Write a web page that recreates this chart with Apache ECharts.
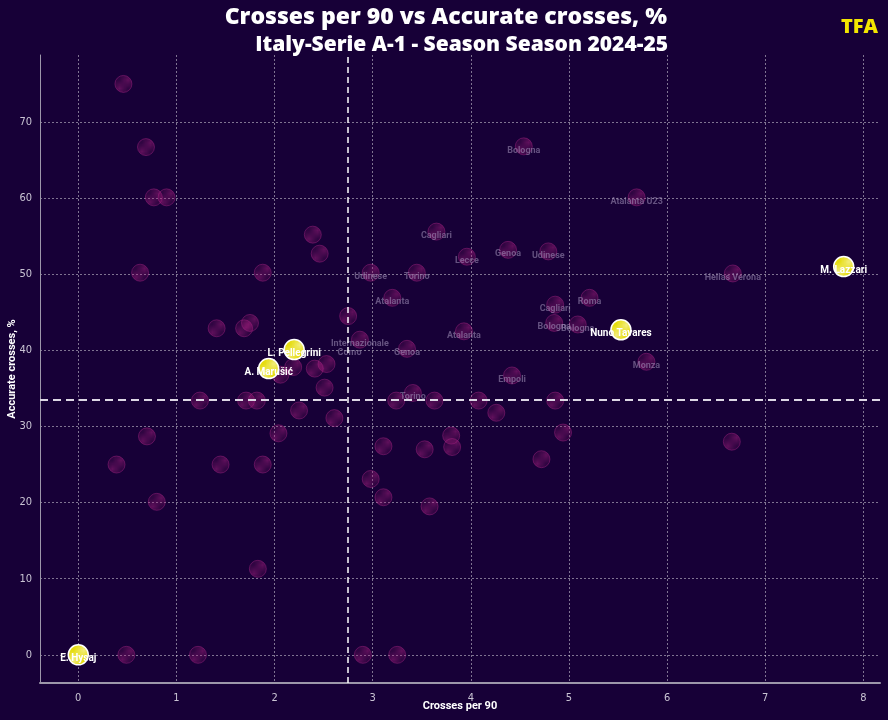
<!DOCTYPE html>
<html>
<head>
<meta charset="utf-8">
<script src="https://cdn.jsdelivr.net/npm/echarts@6/dist/echarts.min.js"></script>
<style>
  html, body { margin: 0; background: #170037; }
  #chart { width: 888px; height: 720px; }
</style>
</head>
<body>
<div id="chart"></div>
<script>
// faded background points (team label only where the source shows one)
const teamNames = ['', '', '', '', '', '', '', '',
  'Bologna', 'Atalanta U23', 'Cagliari', 'Lecce', 'Genoa', 'Udinese', 'Udinese', 'Torino',
  'Atalanta', 'Roma', 'Cagliari', '', 'Hellas Verona', 'Monza', 'Bologna', 'Bologna',
  'Atalanta', 'Empoli', '', '', '', '', 'Internazionale', 'Genoa',
  '', 'Torino', '', '', '', '', '', '',
  '', '', '', '', '', 'Como', '', '',
  '', '', '', '', '', '', '', '',
  '', '', '', '', '', '', '', '',
  '', '', '', ''];
const teamCrosses = [0.46, 0.69, 0.77, 0.90, 2.39, 2.46, 0.63, 1.88,
  4.54, 5.69, 3.65, 3.96, 4.38, 4.79, 2.98, 3.45,
  3.20, 5.21, 4.86, 2.75, 6.67, 5.79, 4.85, 5.09,
  3.93, 4.42, 4.08, 4.26, 4.86, 4.94, 2.87, 3.35,
  3.24, 3.41, 3.63, 2.61, 3.11, 3.53, 3.80, 3.81,
  4.72, 2.98, 3.11, 3.58, 2.51, 2.53, 1.41, 1.69,
  1.75, 2.06, 2.19, 2.41, 1.24, 1.71, 1.82, 2.25,
  2.04, 0.70, 0.39, 1.45, 1.88, 0.80, 1.83, 0.49,
  1.22, 2.90, 3.25, 6.66];
const teamAccuracy = [75.0, 66.7, 60.1, 60.1, 55.2, 52.7, 50.2, 50.2,
  66.8, 60.1, 55.6, 52.3, 53.2, 53.0, 50.2, 50.2,
  46.9, 46.9, 46.0, 44.5, 50.1, 38.5, 43.6, 43.4,
  42.5, 36.7, 33.4, 31.8, 33.4, 29.2, 41.4, 40.2,
  33.4, 34.4, 33.4, 31.1, 27.4, 27.0, 28.8, 27.3,
  25.7, 23.1, 20.7, 19.5, 35.1, 38.2, 42.9, 42.9,
  43.6, 36.8, 37.8, 37.6, 33.4, 33.4, 33.4, 32.1,
  29.1, 28.7, 25.0, 25.0, 25.0, 20.1, 11.3, 0,
  0, 0, 0, 28.0];

// highlighted players
const players = ['E. Hysaj', 'A. Marušić', 'L. Pellegrini', 'Nuno Tavares', 'M. Lazzari'];
const playerCrosses = [0, 1.94, 2.20, 5.53, 7.80];
const playerAccuracy = [0, 37.6, 40.1, 42.7, 51.0];

// league averages (dashed lines)
const meanCrosses = 2.75;
const meanAccuracy = 33.5;

// labels nudged away from their point in the source
const labelShift = { 'Como': [23, -11] };

function hatch(bg, line, size) {
  const c = document.createElement('canvas');
  c.width = c.height = size;
  const g = c.getContext('2d');
  g.fillStyle = bg;
  g.fillRect(0, 0, size, size);
  g.strokeStyle = line;
  g.lineWidth = 1;
  g.beginPath();
  g.moveTo(0, size); g.lineTo(size, 0);
  g.moveTo(-1, 1); g.lineTo(1, -1);
  g.moveTo(size - 1, size + 1); g.lineTo(size + 1, size - 1);
  g.stroke();
  return c;
}

const fadedFill = { image: hatch('rgba(150,25,110,0.2)', 'rgba(200,40,150,0.32)', 5), repeat: 'repeat' };
const yellowFill = { image: hatch('#e6dc0c', '#f3ee80', 5), repeat: 'repeat' };

const chart = echarts.init(document.getElementById('chart'));

const teamData = teamCrosses.map((x, i) => {
  const item = { name: teamNames[i], value: [x, teamAccuracy[i]] };
  if (labelShift[teamNames[i]]) item.label = { offset: labelShift[teamNames[i]] };
  return item;
});
const playerData = playerCrosses.map((x, i) => ({ name: players[i], value: [x, playerAccuracy[i]] }));

const titleFont = 'Open Sans';

const option = {
  backgroundColor: '#170037',
  animation: false,
  title: [
    {
      text: 'Crosses per 90 vs Accurate crosses, %',
      right: 216, top: 1,
      textStyle: { color: '#ffffff', fontSize: 23, fontWeight: 800, fontFamily: titleFont }
    },
    {
      text: 'Italy-Serie A-1 - Season Season 2024-25',
      right: 215, top: 30,
      textStyle: { color: '#ffffff', fontSize: 21, fontWeight: 800, fontFamily: titleFont }
    },
    {
      text: 'TFA',
      right: 5, top: 12,
      textStyle: { color: '#f3e600', fontSize: 20, fontWeight: 800, fontFamily: titleFont }
    }
  ],
  grid: { left: 40, right: 8, top: 55, bottom: 37, outerBoundsMode: 'none' },
  xAxis: {
    type: 'value',
    min: -0.39, max: 8.17, splitNumber: 9,
    name: 'Crosses per 90',
    nameLocation: 'middle', nameGap: 18, nameMoveOverlap: false,
    nameTextStyle: { color: '#ffffff', fontSize: 11, fontWeight: 'bold', fontFamily: 'Roboto' },
    axisLine: { onZero: false, lineStyle: { color: '#9d97aa', width: 2 } },
    axisTick: { show: false },
    axisLabel: { color: '#c9c3d3', fontSize: 11, fontFamily: 'DejaVu Sans Condensed', margin: 10,
      showMinLabel: false, showMaxLabel: false },
    splitLine: { showMinLine: false, showMaxLine: false,
      lineStyle: { color: 'rgba(255,255,255,0.45)', type: [2, 2], width: 1 } }
  },
  yAxis: {
    type: 'value',
    min: -3.7, max: 78.8, splitNumber: 8,
    name: 'Accurate crosses, %',
    nameLocation: 'middle', nameGap: 22, nameMoveOverlap: false,
    nameTextStyle: { color: '#ffffff', fontSize: 11, fontWeight: 'bold', fontFamily: 'Roboto' },
    axisLine: { show: true, onZero: false, lineStyle: { color: '#9d97aa', width: 1 } },
    axisTick: { show: false },
    axisLabel: { color: '#c9c3d3', fontSize: 11, fontFamily: 'DejaVu Sans Condensed', margin: 8,
      showMinLabel: false, showMaxLabel: false },
    splitLine: { showMinLine: false, showMaxLine: false,
      lineStyle: { color: 'rgba(255,255,255,0.45)', type: [2, 2], width: 1 } }
  },
  series: [
    {
      type: 'scatter',
      z: 2,
      symbolSize: 17,
      data: teamData,
      itemStyle: { color: fadedFill, opacity: 1, borderColor: 'rgba(180,40,140,0.4)', borderWidth: 1 },
      label: {
        show: true, position: 'inside', offset: [0, 4],
        formatter: p => p.name,
        color: 'rgba(165,150,190,0.55)', fontSize: 9, fontWeight: 'bold', fontFamily: 'Roboto'
      }
    },
    {
      type: 'scatter',
      z: 3,
      data: [],
      markLine: {
        silent: true, symbol: 'none', label: { show: false },
        data: [
          { xAxis: meanCrosses, lineStyle: { color: '#ffffff', type: [6, 4], width: 1.5 } },
          { yAxis: meanAccuracy, lineStyle: { color: '#dcd6e4', type: [8, 5], width: 2 } }
        ]
      }
    },
    {
      type: 'scatter',
      z: 5,
      symbolSize: 20,
      data: playerData,
      itemStyle: { color: yellowFill, opacity: 1, borderColor: '#ffffff', borderWidth: 1.5 },
      label: {
        show: true, position: 'inside', offset: [0, 4],
        formatter: p => p.name,
        color: '#ffffff', fontSize: 10, fontWeight: 'bold', fontFamily: 'Roboto'
      }
    }
  ]
};

chart.setOption(option);
</script>
</body>
</html>
